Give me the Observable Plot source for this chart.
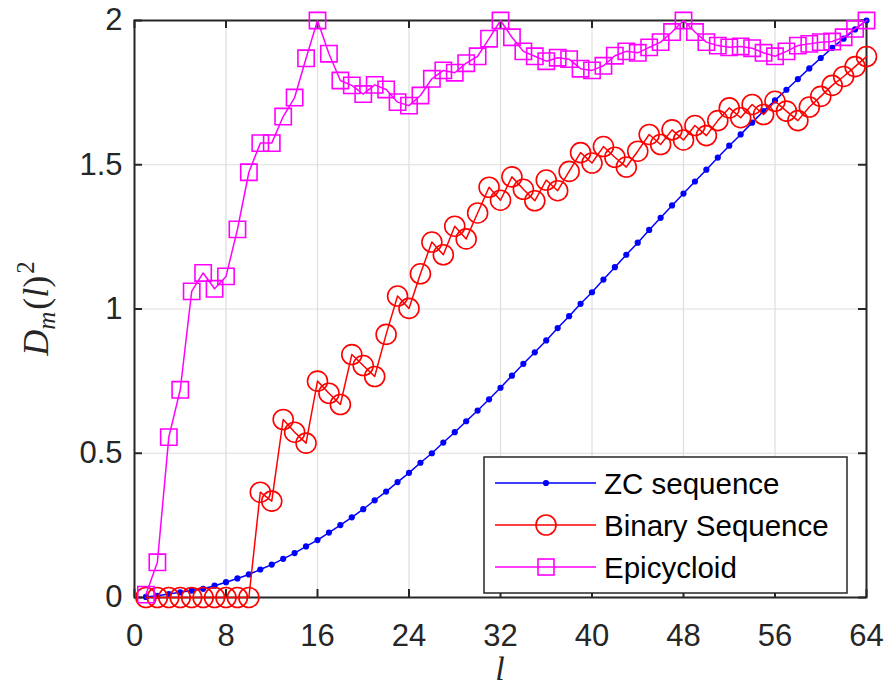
<!DOCTYPE html>
<html>
<head>
<meta charset="utf-8">
<script src="https://cdn.jsdelivr.net/npm/d3@7"></script>
<script src="https://cdn.jsdelivr.net/npm/@observablehq/plot@0.6"></script>
<style>
  html, body { margin: 0; padding: 0; background: #fff; }
  #chart svg { display: block; }
</style>
</head>
<body>
<div id="chart"></div>
<script>
// Lag index l = 1 … 64
const lags = d3.range(1, 65);

// Squared distance D_m(l)^2 per lag for each sequence
const zcSequence = [
  0.002, 0.006, 0.012, 0.018, 0.024, 0.030, 0.041, 0.053, 0.066, 0.080,
  0.097, 0.114, 0.134, 0.154, 0.177, 0.199, 0.225, 0.251, 0.278, 0.306,
  0.337, 0.367, 0.400, 0.432, 0.467, 0.500, 0.537, 0.573, 0.611, 0.648,
  0.687, 0.727, 0.769, 0.810, 0.850, 0.891, 0.934, 0.975, 1.018, 1.058,
  1.102, 1.145, 1.188, 1.230, 1.274, 1.316, 1.359, 1.400, 1.442, 1.483,
  1.525, 1.566, 1.605, 1.646, 1.686, 1.723, 1.760, 1.797, 1.834, 1.870,
  1.905, 1.937, 1.969, 2.000
];

const binarySequence = [
  0, 0, 0, 0, 0, 0, 0, 0, 0, 0,
  0.365, 0.334, 0.617, 0.573, 0.535, 0.750, 0.708, 0.669, 0.842, 0.804,
  0.766, 0.912, 1.045, 1.002, 1.122, 1.232, 1.188, 1.287, 1.243, 1.333,
  1.422, 1.377, 1.458, 1.415, 1.375, 1.447, 1.410, 1.477, 1.542, 1.506,
  1.563, 1.526, 1.492, 1.547, 1.605, 1.570, 1.621, 1.586, 1.636, 1.601,
  1.653, 1.697, 1.663, 1.709, 1.674, 1.720, 1.686, 1.653, 1.700, 1.737,
  1.775, 1.806, 1.840, 1.875
];

const epicycloid = [
  0.010, 0.122, 0.556, 0.720, 1.061, 1.125, 1.070, 1.113, 1.276, 1.474,
  1.575, 1.575, 1.667, 1.733, 1.869, 2.000, 1.885, 1.792, 1.775, 1.745,
  1.777, 1.761, 1.717, 1.705, 1.740, 1.798, 1.827, 1.819, 1.852, 1.876,
  1.937, 2.000, 1.942, 1.893, 1.876, 1.859, 1.871, 1.866, 1.833, 1.827,
  1.843, 1.878, 1.893, 1.888, 1.907, 1.925, 1.960, 2.000, 1.960, 1.925,
  1.913, 1.907, 1.910, 1.904, 1.888, 1.876, 1.893, 1.913, 1.919, 1.925,
  1.927, 1.942, 1.971, 2.000
];

const seriesNames = ["ZC sequence", "Binary Sequence", "Epicycloid"];
const xTicks = [0, 8, 16, 24, 32, 40, 48, 56, 64];
const yTicks = [0, 0.5, 1, 1.5, 2];
const xTickLabels = ["0", "8", "16", "24", "32", "40", "48", "56", "64"];
const yTickLabels = ["0", "0.5", "1", "1.5", "2"];

// Layout
const W = 894, H = 688;
const mL = 134, mR = 28, mT = 20, mB = 91;
const innerW = W - mL - mR;
const innerH = H - mT - mB;
const tickLen = 8;
const axisColor = "#262626";
const gridColor = "#dedede";
const sansFont = "'Liberation Sans', Arial, Helvetica, sans-serif";
const serifFont = "'Liberation Serif', 'Times New Roman', 'DejaVu Serif', serif";

const toRows = vals => vals.map((v, i) => ({l: lags[i], v}));
const zcRows = toRows(zcSequence);
const binRows = toRows(binarySequence);
const epiRows = toRows(epicycloid);

const chart = Plot.plot({
  width: W,
  height: H,
  marginLeft: mL,
  marginRight: mR,
  marginTop: mT,
  marginBottom: mB,
  style: {fontFamily: sansFont, background: "#fff", color: axisColor, overflow: "visible"},
  x: {domain: [0, 64]},
  y: {domain: [0, 2]},
  marks: [
    Plot.gridX(xTicks, {stroke: gridColor, strokeOpacity: 1, strokeWidth: 1.2}),
    Plot.gridY(yTicks, {stroke: gridColor, strokeOpacity: 1, strokeWidth: 1.2}),
    Plot.axisX(xTicks, {
      tickSize: 0, tickPadding: 26, fontSize: 31, fill: axisColor, label: null,
      tickFormat: (d, i) => xTickLabels[i]
    }),
    Plot.axisY(yTicks, {
      tickSize: 0, tickPadding: 12, fontSize: 31, fill: axisColor, label: null,
      tickFormat: (d, i) => yTickLabels[i]
    }),
    // inward ticks on all four sides
    Plot.tickX(xTicks, {x: d => d, insetTop: innerH - tickLen, stroke: axisColor, strokeWidth: 2}),
    Plot.tickX(xTicks, {x: d => d, insetBottom: innerH - tickLen, stroke: axisColor, strokeWidth: 2}),
    Plot.tickY(yTicks, {y: d => d, insetRight: innerW - tickLen, stroke: axisColor, strokeWidth: 2}),
    Plot.tickY(yTicks, {y: d => d, insetLeft: innerW - tickLen, stroke: axisColor, strokeWidth: 2}),
    Plot.frame({stroke: axisColor, strokeWidth: 2}),

    // ZC sequence
    Plot.line(zcRows, {x: "l", y: "v", stroke: "#0000ff", strokeWidth: 1.5}),
    Plot.dot(zcRows, {x: "l", y: "v", r: 3.1, fill: "#0000ff", stroke: "none"}),
    // Binary sequence
    Plot.line(binRows, {x: "l", y: "v", stroke: "#ff0000", strokeWidth: 1.5}),
    Plot.dot(binRows, {x: "l", y: "v", r: 10, fill: "none", stroke: "#ff0000", strokeWidth: 1.6}),
    // Epicycloid
    Plot.line(epiRows, {x: "l", y: "v", stroke: "#ff00ff", strokeWidth: 1.5}),
    Plot.dot(epiRows, {x: "l", y: "v", symbol: "square", r: 9.2, fill: "none", stroke: "#ff00ff", strokeWidth: 1.6})
  ]
});

const svg = d3.select(chart);

// Axis titles
svg.append("text")
  .attr("x", mL + innerW / 2)
  .attr("y", 680)
  .attr("text-anchor", "middle")
  .attr("font-family", serifFont)
  .attr("font-style", "italic")
  .attr("font-size", 34)
  .attr("fill", axisColor)
  .text("l");

const yTitle = svg.append("text")
  .attr("transform", `translate(48, ${mT + innerH / 2}) rotate(-90)`)
  .attr("text-anchor", "middle")
  .attr("font-family", serifFont)
  .attr("font-size", 36)
  .attr("fill", axisColor);
yTitle.append("tspan").attr("font-style", "italic").text("D");
yTitle.append("tspan").attr("font-style", "italic").attr("font-size", 25).attr("dy", 7).text("m");
yTitle.append("tspan").attr("dy", -7).attr("dx", 2).text("(");
yTitle.append("tspan").attr("font-style", "italic").text("l");
yTitle.append("tspan").text(")");
yTitle.append("tspan").attr("font-size", 25).attr("dy", -14).attr("dx", 2).text("2");

// Legend
const legend = svg.append("g").attr("text-anchor", "start");
const lgX = 484, lgY = 457, lgW = 363, lgH = 136;
legend.append("rect")
  .attr("x", lgX).attr("y", lgY).attr("width", lgW).attr("height", lgH)
  .attr("fill", "#fff").attr("stroke", axisColor).attr("stroke-width", 1.5);

const legendColors = ["#0000ff", "#ff0000", "#ff00ff"];
const rowY = [483, 525, 567];
seriesNames.forEach((name, i) => {
  const y = rowY[i];
  const g = legend.append("g");
  g.append("line")
    .attr("x1", 495).attr("x2", 596).attr("y1", y).attr("y2", y)
    .attr("stroke", legendColors[i]).attr("stroke-width", 1.5);
  if (i === 0) {
    g.append("circle").attr("cx", 546).attr("cy", y).attr("r", 3.1).attr("fill", legendColors[i]);
  } else if (i === 1) {
    g.append("circle").attr("cx", 546).attr("cy", y).attr("r", 10)
      .attr("fill", "none").attr("stroke", legendColors[i]).attr("stroke-width", 1.6);
  } else {
    g.append("rect").attr("x", 538).attr("y", y - 8).attr("width", 16).attr("height", 16)
      .attr("fill", "none").attr("stroke", legendColors[i]).attr("stroke-width", 1.6);
  }
  g.append("text")
    .attr("x", 604).attr("y", y + 10.5)
    .attr("text-anchor", "start")
    .attr("font-family", sansFont)
    .attr("font-size", 29.5)
    .attr("fill", "#000")
    .text(name);
});

document.getElementById("chart").appendChild(chart);
</script>
</body>
</html>
